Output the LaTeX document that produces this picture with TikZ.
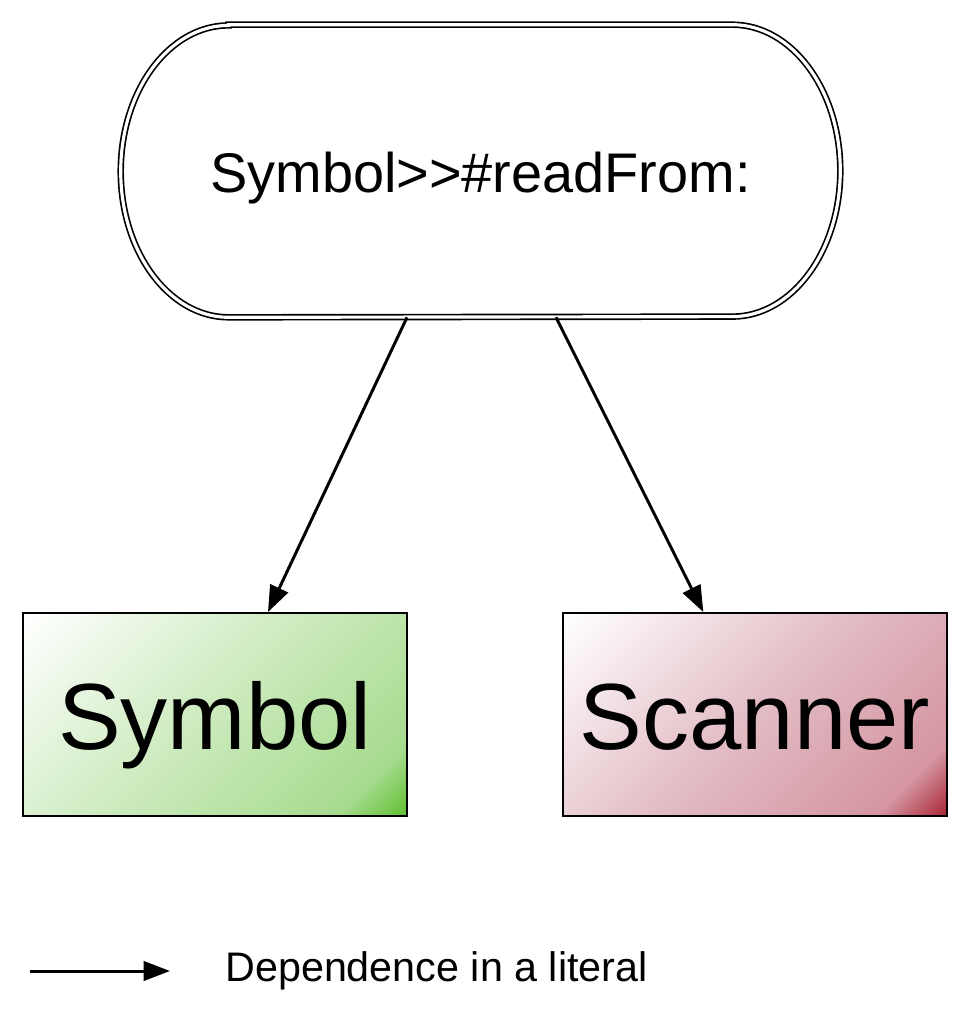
\documentclass[tikz,border=0pt]{standalone}
\usepackage{fontspec}
\setmainfont{Liberation Sans}
\usetikzlibrary{arrows.meta,positioning}

\definecolor{symA}{HTML}{CBEABC}
\definecolor{symB}{HTML}{A6DB8E}
\definecolor{symC}{HTML}{5BBD29}
\definecolor{scnA}{HTML}{E2BCC4}
\definecolor{scnB}{HTML}{D495A1}
\definecolor{scnC}{HTML}{A81E30}

\pgfdeclarehorizontalshading{symbolfade}{100bp}{color(0bp)=(white); color(15bp)=(white); color(50bp)=(symA); color(77bp)=(symB); color(86bp)=(symC); color(100bp)=(symC)}
\pgfdeclarehorizontalshading{scannerfade}{100bp}{color(0bp)=(white); color(15bp)=(white); color(50bp)=(scnA); color(77bp)=(scnB); color(86bp)=(scnC); color(100bp)=(scnC)}

\begin{document}
\begin{tikzpicture}[x=0.02cm,y=-0.02cm,>={Triangle[length=15pt,width=11pt]},
  method/.style={rectangle,minimum width=14.38cm,minimum height=5.84cm,
    text height=31pt,text depth=6.7pt,font=\fontsize{31.8}{38}\selectfont},
  methodline/.style={draw,double,double distance=1.8pt,line width=0.95pt},
  classbox/.style={rectangle,draw,line width=1.1pt,minimum width=7.68cm,minimum height=4.06cm,
    text height=51.6pt,text depth=11.2pt,shading angle=-45,font=\fontsize{53.5}{64}\selectfont},
  dep/.style={->,line width=1.7pt},
  legendtext/.style={inner sep=0pt,font=\fontsize{23.5}{28}\selectfont}]
  \useasboundingbox (0,0) rectangle (969,1017);

  \node[method] (readFrom) at (480.5,171) {Symbol>{}>\#readFrom:};
  \draw[methodline] ([xshift=2.16cm]readFrom.north west) -- ([xshift=-2.16cm]readFrom.north east)
    arc[start angle=90,end angle=-90,x radius=2.16cm,y radius=2.92cm]
    -- ([xshift=2.16cm]readFrom.south west)
    arc[start angle=270,end angle=90,x radius=2.16cm,y radius=2.92cm] -- cycle;

  \node[classbox,shading=symbolfade] (Symbol) at (215,714.5) {Symbol};
  \node[classbox,shading=scannerfade,right=3.08cm of Symbol] (Scanner) {Scanner};

  \draw[dep] ([xshift=-1.47cm]readFrom.south) -- ([xshift=1.06cm]Symbol.north);
  \draw[dep] ([xshift=1.51cm]readFrom.south) -- ([xshift=-1.03cm]Scanner.north);

  % legend
  \coordinate (legstart) at (30,971);
  \node[legendtext,anchor=west] (legtext) at (225,971) {Dependence in a literal};
  \draw[dep] (legstart) -- ([xshift=-1.1cm]legtext.west);
\end{tikzpicture}
\end{document}
